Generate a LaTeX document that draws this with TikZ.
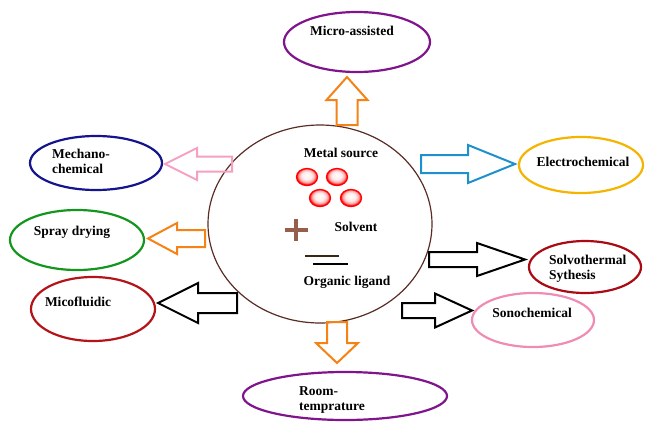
\documentclass[tikz,border=0pt]{standalone}
\usepackage{fontspec}
\setmainfont{Liberation Serif}
\usetikzlibrary{calc,shapes.geometric}
\definecolor{micropurple}{RGB}{128,20,140}
\definecolor{mechanavy}{RGB}{20,20,140}
\definecolor{spraygreen}{RGB}{20,150,30}
\definecolor{fluidred}{RGB}{180,20,25}
\definecolor{electrogold}{RGB}{245,180,0}
\definecolor{solvored}{RGB}{170,10,20}
\definecolor{sonopink}{RGB}{240,140,180}
\definecolor{hubbrown}{RGB}{90,45,35}
\definecolor{arroworange}{RGB}{245,130,20}
\definecolor{arrowpink}{RGB}{245,160,195}
\definecolor{arrowblue}{RGB}{30,145,205}
\definecolor{plusbrown}{RGB}{150,95,75}
\pgfdeclareradialshading{metalball}{\pgfpoint{-1bp}{5bp}}{color(0bp)=(white); color(12bp)=(red!8); color(19bp)=(red!35); color(23bp)=(red!80); color(25bp)=(red); color(50bp)=(red)}
\newcommand{\ovalline}{2.2pt}
\newcommand{\arrowline}{2pt}
% block arrow: colour, tail, tip, shaft half width, head half width, head length
\newcommand{\blockarrow}[6]{%
\coordinate (hb) at ($(#3)!#6!(#2)$);
\draw[#1, line width=\arrowline, line join=miter]
  ($(#2)!#4!90:(#3)$) -- ($(hb)!#4!90:(#3)$) -- ($(hb)!#5!90:(#3)$) -- (#3)
  -- ($(hb)!#5!-90:(#3)$) -- ($(hb)!#4!-90:(#3)$) -- ($(#2)!#4!-90:(#3)$) -- cycle;
}

\begin{document}
\begin{tikzpicture}[x=1pt, y=-1pt,
  ov/.style={ellipse, line width=\ovalline, inner sep=0pt},
  lbl/.style={font=\fontsize{13.5}{15}\selectfont\bfseries, inner sep=0pt, align=left},
  ball/.style={ellipse, draw=red, line width=1.3pt, minimum width=21pt, minimum height=17pt, shading=metalball}]
\useasboundingbox (0,0) rectangle (645,421);
%hub
\node[ellipse, draw=hubbrown, line width=1.2pt, minimum width=224pt, minimum height=198pt] (hub) at (320,224) {};
\node[lbl] (metal) at (341,153) {Metal source};
\node[ball] (ball1) at (307,177) {};
\node[ball] (ball2) at (337,177) {};
\node[ball] (ball3) at (320,198) {};
\node[ball] (ball4) at (351,198) {};
\draw[plusbrown, line width=4.5pt] (284.5,230) -- (307.5,230);
\draw[plusbrown, line width=4.5pt] (296,219) -- (296,241);
\node[lbl] (solvent) at (356,227) {Solvent};
\draw[black!70!brown, line width=1.6pt] (305,256) -- (339,256);
\draw[black, line width=1.6pt] (313,264) -- (348,264);
\node[lbl] (ligand) at (347,282) {Organic ligand};
%methods
\node[ov, draw=micropurple, minimum width=146pt, minimum height=60pt] (micro) at (357,42) {};
\node[lbl] (microtxt) at (352,31) {Micro-assisted};
\node[ov, draw=mechanavy, minimum width=132pt, minimum height=54pt] (mecha) at (96,163) {};
\node[lbl, anchor=west] (mechatxt) at (52,161) {Mechano-\\chemical};
\node[ov, draw=spraygreen, minimum width=134pt, minimum height=60pt] (spray) at (77,240) {};
\node[lbl] (spraytxt) at (72,232) {Spray drying};
\node[ov, draw=fluidred, minimum width=124pt, minimum height=64pt] (fluidic) at (93,309) {};
\node[lbl] (fluidictxt) at (78,302) {Micofluidic};
\node[ov, draw=electrogold, minimum width=124pt, minimum height=56pt] (electro) at (581,165) {};
\node[lbl] (electrotxt) at (583,162) {Electrochemical};
\node[ov, draw=solvored, minimum width=112pt, minimum height=52pt] (solvo) at (585,267) {};
\node[lbl, anchor=west] (solvotxt) at (549,269) {Solvothermal\\Sythesis};
\node[ov, draw=sonopink, minimum width=122pt, minimum height=54pt] (sono) at (533,320) {};
\node[lbl] (sonotxt) at (532,313) {Sonochemical};
\node[ov, draw=micropurple, minimum width=204pt, minimum height=48pt] (room) at (345,396) {};
\node[lbl, anchor=west] (roomtxt) at (299,400) {Room-\\temprature};
%arrows
\coordinate (upT) at (347,125);   \coordinate (upH) at (347,77);
\coordinate (mechaT) at (232,164); \coordinate (mechaH) at (165,164);
\coordinate (sprayT) at (205,238.5); \coordinate (sprayH) at (148,238.5);
\coordinate (fluidT) at (237,303); \coordinate (fluidH) at (158,303);
\coordinate (electroT) at (421,164); \coordinate (electroH) at (515,164);
\coordinate (solvoT) at (429,259.5); \coordinate (solvoH) at (525,259.5);
\coordinate (sonoT) at (402,310.5); \coordinate (sonoH) at (472,310.5);
\coordinate (roomT) at (337,322); \coordinate (roomH) at (337,363);
\blockarrow{arroworange}{upT}{upH}{10.5pt}{20.5pt}{23pt}
\blockarrow{arrowpink}{mechaT}{mechaH}{7.5pt}{16pt}{32pt}
\blockarrow{arroworange}{sprayT}{sprayH}{8.5pt}{15.5pt}{29pt}
\blockarrow{black}{fluidT}{fluidH}{10pt}{20pt}{40pt}
\blockarrow{arrowblue}{electroT}{electroH}{9pt}{19pt}{47pt}
\blockarrow{black}{solvoT}{solvoH}{7.5pt}{16.5pt}{48pt}
\blockarrow{black}{sonoT}{sonoH}{7.5pt}{17pt}{37pt}
\blockarrow{arroworange}{roomT}{roomH}{10pt}{21pt}{20pt}
\end{tikzpicture}
\end{document}
